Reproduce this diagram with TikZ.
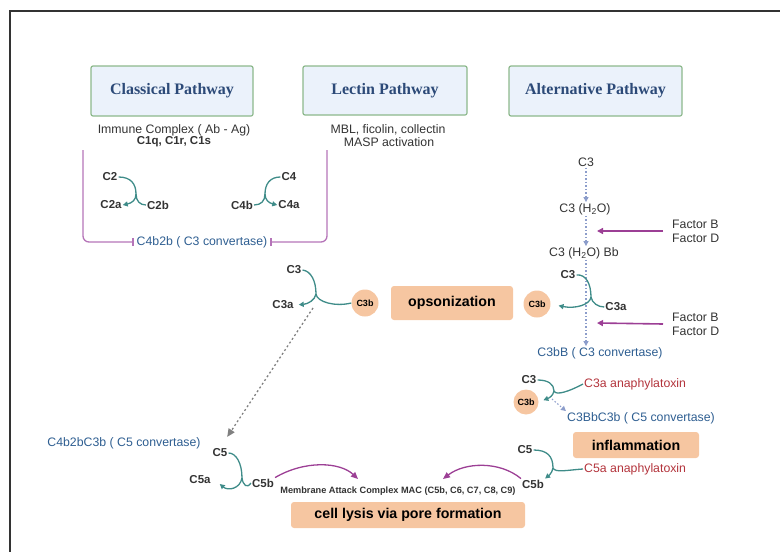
\documentclass[tikz,border=0pt]{standalone}
\usepackage{fontspec}
\setmainfont{Liberation Sans}
\newfontfamily\titlefont{Liberation Serif}
\usetikzlibrary{arrows.meta,calc}

\definecolor{rxteal}{HTML}{3F8C89}
\definecolor{purp}{HTML}{9C3F95}
\definecolor{brpurp}{HTML}{B574B8}
\definecolor{convblue}{HTML}{2E5E91}
\definecolor{anared}{HTML}{B3343C}
\definecolor{peach}{HTML}{F6C6A1}
\definecolor{titlefill}{HTML}{EBF2FB}
\definecolor{titledraw}{HTML}{8DB98C}
\definecolor{titletext}{HTML}{2C4A78}
\definecolor{dotblue}{HTML}{8C9DCB}
\definecolor{framegrey}{HTML}{333333}

\begin{document}
\begin{tikzpicture}[x=1pt,y=-1pt,
  pathbox/.style={draw=titledraw, fill=titlefill, line width=1.2pt, rounded corners=2pt,
    text=titletext, font=\titlefont\bfseries\fontsize{16}{18}\selectfont},
  lbl/.style={inner sep=1pt, text=black!80, font=\fontsize{12.3}{14}\selectfont},
  lblb/.style={lbl, font=\bfseries\fontsize{11.5}{14}\selectfont},
  outbox/.style={fill=peach, rounded corners=3pt, inner sep=0pt,
    font=\bfseries\fontsize{14.2}{16}\selectfont},
  c3bdisc/.style={circle, fill=peach, minimum size=27pt, inner sep=0pt,
    font=\bfseries\fontsize{9}{10}\selectfont},
  rxline/.style={draw=rxteal, line width=1.3pt},
  rxhead/.style={rxline, -{Triangle[length=5pt,width=5pt]}},
  dotflow/.style={draw=dotblue, line width=1.1pt, dash pattern=on 1.5pt off 2pt,
    -{Triangle[length=5pt,width=5pt]}},
  greyflow/.style={draw=gray, line width=1.3pt, dash pattern=on 2pt off 2.5pt,
    -{Triangle[length=8pt,width=7pt]}},
  factorflow/.style={draw=purp, line width=1.6pt, -{Triangle[length=6pt,width=6pt]}},
  macflow/.style={draw=purp, line width=1.3pt, -{Triangle[length=7pt,width=6pt]}},
  bracketline/.style={draw=brpurp, line width=1.3pt, rounded corners=6pt,
    -{Bar[width=8pt]}, shorten >=2pt},
  framelin/.style={draw=framegrey, line width=2.2pt}
]
\useasboundingbox (0,0) rectangle (780,552);

% outer frame
\draw[framelin] (10,552) -- (10,11) -- (780,11);

% pathway headers
\node[pathbox, minimum width=162pt, minimum height=50pt] (classical) at (172,91) {Classical Pathway};
\node[pathbox, minimum width=164pt, minimum height=49pt] (lectin) at (385,90.5) {Lectin Pathway};
\node[pathbox, minimum width=173pt, minimum height=50pt] (alternative) at (595.5,91) {Alternative Pathway};

% triggers
\node[lbl] (ic) at (174,130) {Immune Complex ( Ab - Ag)};
\node[lblb] (c1) at (174,142) {C1q, C1r, C1s};
\node[lbl] (mbl) at (388,130) {MBL, ficolin, collectin};
\node[lbl] (masp) at (389,142) {MASP activation};

% C3 convertase of classical / lectin pathways
\node[lbl, text=convblue] (c4b2b) at (202,242) {C4b2b ( C3 convertase)};
\coordinate (brL) at (83,150);
\coordinate (brR) at (327,150);
\draw[bracketline] (brL) |- (c4b2b.west);
\draw[bracketline] (brR) |- (c4b2b.east);

% C2 cleavage
\node[lblb] (c2) at (110,177) {C2};
\node[lblb] (c2a) at (111,205) {C2a};
\node[lblb] (c2b) at (158,205) {C2b};
\coordinate (jC2) at (136,194);
\draw[rxline] (c2.east) .. controls (131,177) and (136,184) .. (jC2);
\draw[rxline] (jC2) .. controls (136,201) and (140,205) .. (c2b.west);
\draw[rxhead] (jC2) .. controls (136,200) and (132,203) .. (c2a.east);

% C4 cleavage
\node[lblb] (c4) at (289,177) {C4};
\node[lblb] (c4b) at (242,205) {C4b};
\node[lblb] (c4a) at (289,205) {C4a};
\coordinate (jC4) at (265,194);
\draw[rxline] (c4.west) .. controls (270,177) and (265,184) .. (jC4);
\draw[rxline] (jC4) .. controls (265,201) and (261,205) .. (c4b.east);
\draw[rxhead] (jC4) .. controls (265,200) and (269,203) .. (c4a.west);

% alternative pathway tick-over
\node[lbl] (a3) at (586,162) {C3};
\node[lbl] (a3w) at (585,209) {C3 (H\textsubscript{2}O)};
\node[lbl] (a3bb) at (584,253) {C3 (H\textsubscript{2}O) Bb};
\node[lbl, text=convblue] (c3bB) at (600,353) {C3bB ( C3 convertase)};
\draw[dotflow] (a3.south) -- (a3.south |- a3w.north);
\draw[dotflow] (a3.south |- a3w.south) -- (a3.south |- a3bb.north);
\draw[dotflow] (a3.south |- a3bb.south) -- (a3.south |- c3bB.north);

\node[lbl, align=left, anchor=west] (fbd1) at (671,231) {Factor B\\Factor D};
\node[lbl, align=left, anchor=west] (fbd2) at (671,324) {Factor B\\Factor D};
\coordinate (fb1) at (597,231);
\coordinate (fb2) at (597,323);
\draw[factorflow] (fbd1.west) ++(-8,0) -- (fb1);
\draw[factorflow] (fbd2.west) ++(-8,0) -- (fb2);

% C3 cleavage, alternative side
\node[lblb] (r3) at (568,275) {C3};
\node[lblb] (r3a) at (616,307) {C3a};
\node[c3bdisc] (r3b) at (537,304) {C3b};
\coordinate (jR3) at (591,297);
\draw[rxline] (r3.east) .. controls (586,274) and (591,284) .. (jR3);
\draw[rxline] (jR3) .. controls (592,303) and (598,307) .. (r3a.west);
\draw[rxhead, shorten >=8pt] (jR3) .. controls (590,305) and (575,309) .. (r3b.east);

% opsonization
\node[outbox, minimum width=122pt, minimum height=34pt] (ops) at (452,303) {opsonization};
\node[c3bdisc] (l3b) at (365,303) {C3b};

% C3 cleavage, classical side
\node[lblb] (l3) at (294,270) {C3};
\node[lblb] (l3a) at (283,305) {C3a};
\coordinate (jL3) at (316,294);
\draw[rxline] (l3.east) .. controls (311,271) and (316,281) .. (jL3);
\draw[rxline] (jL3) .. controls (317,302) and (335,307) .. (l3b.west);
\draw[rxhead, shorten >=4pt] (jL3) .. controls (315,300) and (308,304) .. (l3a.east);

% C5 convertase, classical side
\node[lbl, text=convblue] (c4b2bc3b) at (124,443) {C4b2bC3b ( C5 convertase)};
\node[lblb] (c5L) at (220,453) {C5};
\node[lblb] (c5aL) at (200,480) {C5a};
\node[lblb] (c5bL) at (263,483) {C5b};
\coordinate (gStart) at (313,308);
\draw[greyflow, shorten >=13pt] (gStart) -- (c5L.north);
\coordinate (jL5) at (242,478);
\draw[rxline] (c5L.east) .. controls (236,453) and (242,463) .. (jL5);
\draw[rxline] (jL5) .. controls (243,485) and (247,489) .. (c5bL.west);
\draw[rxhead] (jL5) .. controls (240,489) and (228,491) .. ($(c5aL.east)+(8,4)$);

% C3 cleavage leading to C5 convertase, alternative side
\node[lblb] (c3R) at (529,380) {C3};
\node[lbl, text=anared, anchor=west] (c3ana) at (583,384) {C3a anaphylatoxin};
\node[c3bdisc, minimum size=25pt] (c3bR) at (526,402) {C3b};
\node[lbl, text=convblue] (c5conv) at (641,418) {C3BbC3b ( C5 convertase)};
\coordinate (jR) at (554,391);
\draw[rxline] (c3R.east) .. controls (548,380) and (554,384) .. (jR);
\draw[rxline] (jR) .. controls (556,396) and (570,391) .. (c3ana.west);
\draw[rxhead, shorten >=5pt] (jR) .. controls (553,396) and (549,398) .. (c3bR.east);
\coordinate (dStart) at (552,399);
\draw[dotflow] (dStart) -- (c5conv.north west);

% inflammation
\node[outbox, minimum width=126pt, minimum height=26pt] (infl) at (636,445) {inflammation};

% C5 cleavage, alternative side
\node[lblb] (c5R) at (525,450) {C5};
\node[lbl, text=anared, anchor=west] (c5ana) at (583,469) {C5a anaphylatoxin};
\node[lblb] (c5bR) at (533,484) {C5b};
\coordinate (jR5) at (553,468);
\draw[rxline] (c5R.east) .. controls (547,450) and (553,456) .. (jR5);
\draw[rxline] (jR5) .. controls (555,473) and (568,470) .. (c5ana.west);
\draw[rxhead] (jR5) .. controls (552,474) and (547,477) .. (c5bR.north east);

% membrane attack complex
\node[lblb, font=\bfseries\fontsize{9.2}{10}\selectfont] (mac) at (398,491) {Membrane Attack Complex MAC (C5b, C6, C7, C8, C9)};
\node[outbox, minimum width=234pt, minimum height=26pt] (lysis) at (408,515) {cell lysis via pore formation};
\coordinate (macL) at (358,479);
\coordinate (macR) at (443,479);
\draw[macflow] (c5bL.north east) .. controls (305,460) and (340,462) .. (macL);
\draw[macflow] (c5bR.north west) .. controls (500,461) and (465,462) .. (macR);
\end{tikzpicture}
\end{document}
